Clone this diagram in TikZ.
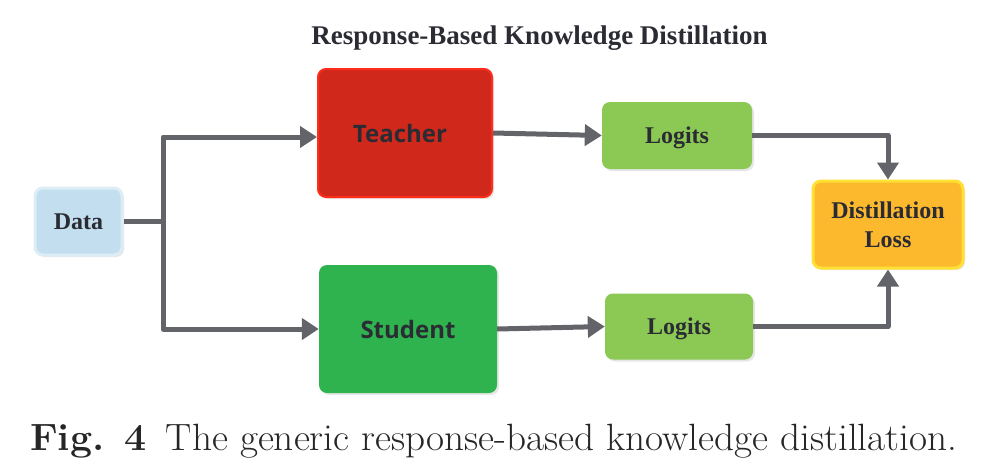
\documentclass[tikz,border=0pt]{standalone}
\usepackage{fontspec}
\newfontfamily\tnr{Liberation Serif}
\newfontfamily\osans{Open Sans}
\usetikzlibrary{arrows.meta,shadows}
\definecolor{linegray}{HTML}{63646A}
\definecolor{txtdark}{HTML}{2B2C33}
\definecolor{datafill}{HTML}{C3DFEF}
\definecolor{databord}{HTML}{DCEDF6}
\definecolor{teachfill}{HTML}{D1281C}
\definecolor{teachbord}{HTML}{FF2D1B}
\definecolor{studfill}{HTML}{2FB34F}
\definecolor{logfill}{HTML}{8BC954}
\definecolor{lossfill}{HTML}{FDB92D}
\definecolor{lossbord}{HTML}{FFE033}
\tikzset{
  box/.style={rounded corners=8pt, inner sep=0pt, text=txtdark,
    drop shadow={shadow xshift=2pt, shadow yshift=-2pt, fill=black!12, opacity=0.8}},
  serifl/.style={font=\tnr\bfseries\fontsize{24}{29}\selectfont, align=center},
  sansl/.style={font=\osans\bfseries\fontsize{24}{29}\selectfont},
  conn/.style={draw=linegray, line width=5pt, line join=round},
  arr/.style={conn, -{Triangle[length=17pt,width=21pt]}},
}
\begin{document}
\begin{tikzpicture}[x=1pt,y=-1pt]
\useasboundingbox (0,0) rectangle (992,474);
% title
\node[font=\tnr\bfseries\fontsize{27}{32}\selectfont, text=txtdark] (title) at (539.5,38) {Response-Based Knowledge Distillation};
% boxes
\node[box, serifl, fill=datafill, draw=databord, line width=3pt, minimum width=87pt, minimum height=67pt] (data) at (78.5,221.5) {Data};
\node[box, sansl, fill=teachfill, draw=teachbord, line width=2pt, minimum width=174pt, minimum height=128pt] (teacher) at (405,133) {\hspace*{-10pt}Teacher};
\node[box, sansl, fill=studfill, minimum width=178pt, minimum height=128pt] (student) at (408,329) {Student};
\node[box, serifl, text depth=0pt, fill=logfill, minimum width=150pt, minimum height=67pt] (log1) at (677,135.5) {Logits};
\node[box, serifl, text depth=0pt, fill=logfill, minimum width=148pt, minimum height=66pt] (log2) at (679,326.5) {Logits};
\node[box, serifl, fill=lossfill, draw=lossbord, line width=3pt, minimum width=150pt, minimum height=87pt] (loss) at (888,224.5) {Distillation\\Loss};
% connectors
\coordinate (split) at (163,221.5);
\draw[conn] (data.east) -- (split);
\draw[arr] (split) |- ([yshift=-4pt]teacher.west);
\draw[arr] (split) |- (student.west);
\draw[arr] (teacher.east) -- (log1.west);
\draw[arr] (student.east) -- (log2.west);
\draw[arr] (log1.east) -| (loss.north);
\draw[arr] (log2.east) -| (loss.south);
% caption
\node[anchor=base west, font=\fontsize{38}{44}\selectfont, text=black!85, inner sep=0pt] (caption) at (30,450) {\scalebox{1.033}[1]{\textbf{Fig. 4}\enspace The generic response-based knowledge distillation.}};
\end{tikzpicture}
\end{document}
